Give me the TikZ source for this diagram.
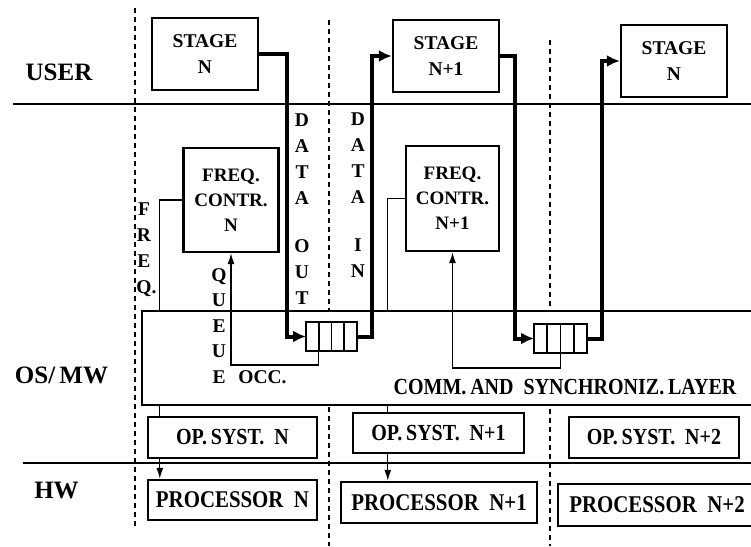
\documentclass[tikz,border=0pt]{standalone}
\usepackage{fontspec}
\setmainfont{Liberation Serif}
\newfontfamily\narrowfont{Liberation Serif}[FakeStretch=0.87]
\usetikzlibrary{arrows.meta,positioning,calc}

\begin{document}
\begin{tikzpicture}[
    x=1pt, y=-1pt,
    box/.style={draw=black, fill=white, line width=2.4pt, inner sep=0pt, align=center,
                font=\bfseries\fontsize{19.5}{26}\selectfont},
    stg/.style={box, minimum width=106pt, minimum height=72pt},
    frq/.style={box, minimum width=95pt, minimum height=104pt, font=\bfseries\fontsize{19}{25}\selectfont},
    osb/.style={box, minimum height=41pt, font=\narrowfont\bfseries\fontsize{23}{26}\selectfont},
    prc/.style={osb, minimum height=40pt, font=\narrowfont\bfseries\fontsize{24}{26}\selectfont},
    que/.style={draw=black, fill=white, line width=1.6pt, minimum height=29pt, inner sep=0pt, outer sep=0pt},
    lay/.style={draw=black, fill=white, line width=2.4pt, inner sep=0pt},
    rowlbl/.style={inner sep=0pt, font=\bfseries\fontsize{25}{30}\selectfont},
    vtxt/.style={align=center, inner sep=0pt, font=\bfseries\fontsize{19.5}{26}\selectfont},
    rowline/.style={line width=1.2pt},
    colsep/.style={line width=1.3pt, dash pattern=on 5pt off 4pt},
    arr/.style={-{Latex[length=13pt,width=12pt]}, line width=4pt},
    tarr/.style={-{Latex[length=11pt,width=7pt]}, line width=1.2pt}
]
\useasboundingbox (0,0) rectangle (751,546);
\clip (0,0) rectangle (751,546);

% layer and column separators
\draw[rowline] (13,104) -- (751,104);
\draw[rowline] (23,463) -- (751,463);
\draw[colsep] (135,8) -- (135,528);
\draw[colsep] (329,20) -- (329,546);
\draw[colsep] (550,40) -- (550,546);

% user stages and controllers
\node[stg] (st0) at (205,54) {STAGE\\N};
\node[stg] (st1) at (446,56) {STAGE\\N+1};
\node[stg] (st2) at (674,61) {STAGE\\N};
\node[frq] (fc0) at (231,200) {FREQ.\\CONTR.\\N};
\node[frq, minimum width=93pt, minimum height=105pt] (fc1) at (452.5,198.5) {FREQ.\\CONTR.\\N+1};

% processors
\node[prc, minimum width=169pt] (pr0) at (232.5,500) {PROCESSOR~~N};
\node[prc, minimum width=196pt, minimum height=41pt] (pr1) at (439,502.5) {PROCESSOR~~N+1};
\node[prc, minimum width=198pt, minimum height=42pt] (pr2) at (657,505) {PROCESSOR~~N+2};

% frequency settings
\draw[tarr] (fc0.west) -| ([xshift=13pt]pr0.north west);
\draw[tarr] (fc1.west) -| ([xshift=48pt]pr1.north west);

% middleware and operating systems
\node[lay, minimum width=660pt, minimum height=94pt] (lay) at (472,358) {};
\node[osb, minimum width=169pt] (os0) at (232.5,437.5) {OP.\,SYST.~~N};
\node[osb, minimum width=171pt, minimum height=40pt] (os1) at (438.5,433) {OP.\,SYST.~~N+1};
\node[osb, minimum width=170pt] (os2) at (654,437.5) {OP.\,SYST.~~N+2};

% queues
\node[que, minimum width=51pt] (q0) at (331.5,336.5) {};
\node[que, minimum width=53pt] (q1) at (560.5,338.5) {};
\foreach \q in {q0,q1}
  \foreach \i in {1,2,3}
    \draw[line width=1.6pt] ($(\q.north west)!\i/4!(\q.north east)$) -- ($(\q.south west)!\i/4!(\q.south east)$);

% data flow
\draw[arr] (st0.east) -- ++(28,0) |- (q0.west);
\draw[arr] (q0.east) -- ++(15,0) |- (st1.west);
\draw[arr] (st1.east) -- ++(15,0) |- (q1.west);
\draw[arr] (q1.east) -- ++(15,0) |- (st2.west);

% queue occupancy
\draw[tarr] ([xshift=12.75pt]q0.south west) -- ++(0,14) -| (fc0.south);
\draw[tarr] (q1.south) -- ++(0,15) -| (fc1.south);

% labels
\node[rowlbl] (user) at (59,72.5) {USER};
\node[rowlbl] (osmw) at (61.5,375.5) {OS/\,MW};
\node[rowlbl] (hw) at (56.5,490) {HW};
\node[vtxt] (dout) at (302,209) {D\\A\\T\\A\\[22pt]O\\U\\T};
\node[vtxt] (din) at (358,195.5) {D\\A\\T\\A\\[22pt]I\\N};
\node[vtxt] (freq) at (144,250) {F\\R\\E\\Q\rlap{.}};
\node[vtxt, font=\bfseries\fontsize{19.5}{25.5}\selectfont] (queue) at (219,326) {Q\\U\\E\\U\\E};
\node[vtxt] (occ) at (262.5,377) {OCC.};
\node[inner sep=0pt, font=\narrowfont\bfseries\fontsize{23}{26}\selectfont] (comm) at (565,387) {COMM.\,AND~~SYNCHRONIZ.\,LAYER};
\end{tikzpicture}
\end{document}
